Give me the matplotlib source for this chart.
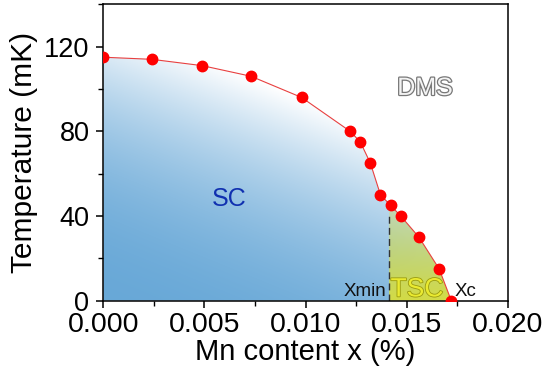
import numpy as np
import matplotlib
matplotlib.use("Agg")
import matplotlib.pyplot as plt
import matplotlib.patheffects as pe
from matplotlib.patches import Polygon
from matplotlib.ticker import MultipleLocator

plt.rcParams['font.family'] = ['Liberation Sans', 'DejaVu Sans']

# Tc(x) phase boundary
mn_x = [0.0, 0.0024, 0.0049, 0.0073, 0.0098, 0.0122, 0.0127, 0.0132,
        0.0137, 0.0142, 0.0147, 0.0156, 0.0166, 0.0172]
tc_mk = [115, 114, 111, 106, 96, 80, 75, 65, 50, 45, 40, 30, 15, 0]
x_min = 0.0141
x_c = mn_x[-1]

fig = plt.figure(figsize=(5.45, 3.73), dpi=100)
ax = fig.add_axes([0.1895, 0.194, 0.7425, 0.7945])
ax.set_xlim(0, 0.020)
ax.set_ylim(0, 140)

# gradient image for the SC dome: blue in the lower left, white toward the boundary
nx, ny = 400, 300
gx = np.linspace(0, x_c, nx)
gy = np.linspace(0, 120, ny)
X, Y = np.meshgrid(gx, gy)
f = np.clip(0.50 * X / x_c + 0.86 * Y / 115.0, 0, 1) ** 2.0
c0 = np.array([0.41, 0.66, 0.845])
img = c0[None, None, :] * (1 - f[..., None]) + np.ones(3)[None, None, :] * f[..., None]

# yellow TSC strip blended on top
yellow = np.array([0.83, 0.86, 0.27])
a = np.clip(1 - 0.7 * Y / 45.0, 0, 1) * (X >= x_min)
img = img * (1 - a[..., None]) + yellow[None, None, :] * a[..., None]

dome = Polygon(list(zip(mn_x, tc_mk)) + [(x_c, 0), (0, 0)], closed=True,
               facecolor='none', edgecolor='none', transform=ax.transData)
ax.add_patch(dome)
im = ax.imshow(img, origin='lower', extent=[0, x_c, 0, 120], aspect='auto',
               interpolation='bilinear', zorder=1)
im.set_clip_path(dome)

ax.plot([x_min, x_min], [0, 40], ls=(0, (5, 3)), color='#333333', lw=1.0, zorder=2)
ax.plot(mn_x, tc_mk, '-', color='#e84040', lw=0.8, zorder=3)
ax.plot(mn_x, tc_mk, 'o', color='#ff0000', ms=7.5, mec='#ff0000', zorder=4)

ax.text(0.0159, 100.5, 'DMS', fontsize=18, ha='center', va='center', color='#f4f4f4',
        path_effects=[pe.withStroke(linewidth=1.8, foreground='#777777')])
ax.text(0.0062, 48, 'SC', fontsize=18, ha='center', va='center', color='#1030b0')
ax.text(0.01397, 2.0, 'Xmin', fontsize=13.5, ha='right', va='baseline', color='#111111')
ax.text(0.0155, 2.0, 'TSC', fontsize=19, ha='center', va='baseline', color='#eaea30',
        path_effects=[pe.withStroke(linewidth=1.2, foreground='#9a9a10')])
ax.text(0.01735, 2.0, 'Xc', fontsize=13.5, ha='left', va='baseline', color='#111111')

ax.xaxis.set_major_locator(MultipleLocator(0.005))
ax.xaxis.set_minor_locator(MultipleLocator(0.0025))
ax.yaxis.set_major_locator(MultipleLocator(40))
ax.yaxis.set_minor_locator(MultipleLocator(20))
ax.set_xticks([0, 0.005, 0.010, 0.015, 0.020])
ax.set_xticklabels(['0.000', '0.005', '0.010', '0.015', '0.020'])
ax.tick_params(which='major', direction='out', length=5, width=1.1,
               top=False, right=False)
ax.tick_params(axis='x', which='major', labelsize=20.5, pad=3)
ax.tick_params(axis='y', which='major', labelsize=19.5, pad=5)
ax.tick_params(which='minor', direction='out', length=3.5, width=1.0, top=False, right=False)
for sp in ax.spines.values():
    sp.set_linewidth(1.1)

ax.set_xlabel('Mn content x (%)', fontsize=21, labelpad=0)
ax.set_ylabel('Temperature (mK)', fontsize=21.5, labelpad=4)

fig.savefig('out.png', dpi=100)
